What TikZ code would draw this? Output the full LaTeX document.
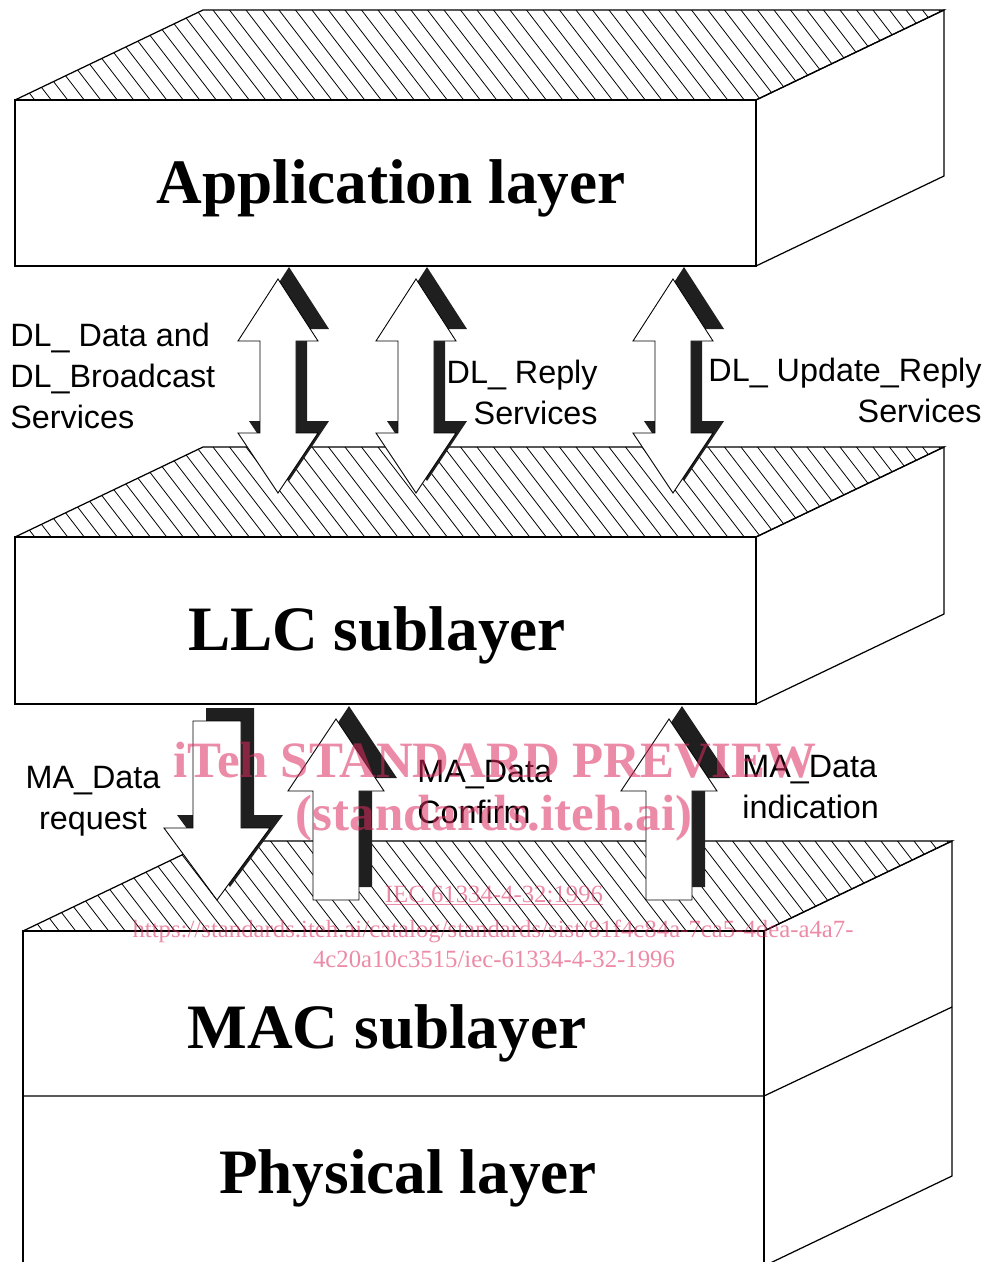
\documentclass[tikz,border=0pt]{standalone}
\usepackage{fontspec}
\setmainfont{Liberation Serif}
\setsansfont{Liberation Sans}
\definecolor{wmpink}{RGB}{220,44,95}
\begin{document}
\begin{tikzpicture}
[x=0.02cm,y=-0.02cm,%
  blockline/.style={line width=0.7pt},%
  hatchline/.style={line width=0.45pt},%
  arrowbody/.style={fill=white,draw,line width=0.5pt},%
  arrowshade/.style={fill=black!88},%
  layername/.style={font=\fontsize{36}{40}\selectfont\bfseries,inner sep=0pt,anchor=base},%
  servicename/.style={font=\sffamily\fontsize{18.4}{23.4}\selectfont,inner sep=0pt},%
  watermark/.style={text=wmpink,opacity=0.55,inner sep=0pt,anchor=base},%
  scale=1]
\useasboundingbox (0,0) rectangle (989,1262);
%% layer blocks
\foreach \bx/\by/\bh in {15/100/166, 15/537/167, 23/931/335} {
  \begin{scope}
    \clip (\bx,\by) -- ++(188,-90) -- ++(741,0) -- ++(-188,90) -- cycle;
    \foreach \k in {-6,...,58}
      \draw[hatchline] (\bx+\k*16.5,\by-90) -- ++(100,130);
  \end{scope}
  \draw[blockline] (\bx,\by) -- ++(188,-90) -- ++(741,0) -- ++(-188,90);
  \draw[blockline] (\bx,\by) rectangle ++(741,\bh);
  \draw[blockline] (\bx+741,\by) -- ++(188,-90) -- ++(0,\bh) -- ++(-188,90);
}
\draw[blockline] (23,1096) -- (764,1096) -- (952,1007);
%% layer names
\node[layername] (app) at (391,203) {Application layer};
\node[layername] (llc) at (377,650) {LLC sublayer};
\node[layername] (mac) at (387,1048) {MAC sublayer};
\node[layername] (phy) at (408,1193) {Physical layer};
%% service arrows between application layer and LLC
\foreach \cx in {278,416,673} {
  \foreach \dx/\dy/\sty in {11/-12/arrowshade, 0/0/arrowbody}
    \path[\sty,shift={(\dx,\dy)}] (\cx,279) -- (\cx+40,341) -- (\cx+18,341)
      -- (\cx+18,433) -- (\cx+40,433) -- (\cx,493) -- (\cx-40,433)
      -- (\cx-18,433) -- (\cx-18,341) -- (\cx-40,341) -- cycle;
}
%% service arrows between LLC and MAC
\foreach \dx/\dy/\sty in {13/-13/arrowshade, 0/0/arrowbody} {
  \path[\sty,shift={(\dx,\dy)}] (193,721) -- (241,721) -- (241,828)
    -- (270,828) -- (217,900) -- (164,828) -- (193,828) -- cycle;
  \foreach \cx in {336,669}
    \path[\sty,shift={(\dx,\dy)}] (\cx,719) -- (\cx+48,791) -- (\cx+23,791)
      -- (\cx+23,900) -- (\cx-23,900) -- (\cx-23,791) -- (\cx-48,791) -- cycle;
}
%% service labels
\node[servicename,anchor=west,align=left] (dldata) at (10,376) {DL\_ Data and\\DL\_Broadcast\\Services};
\node[servicename,anchor=east,align=right] (dlreply) at (598,392) {DL\_ Reply\\Services};
\node[servicename,anchor=east,align=right] (dlupdate) at (982,390) {DL\_ Update\_Reply\\Services};
\node[servicename,align=center] (mareq) at (93,801) {MA\_Data\\request};
\node[servicename,anchor=west,align=left] (macon) at (417,792) {MA\_Data\\Confirm};
\node[servicename,anchor=west,align=left] (maind) at (742,787) {MA\_Data\\indication};
%% watermark
\node[watermark,font=\fontsize{29}{32}\selectfont\bfseries] (wmtitle) at (495,777) {iTeh STANDARD PREVIEW};
\node[watermark,font=\fontsize{29}{32}\selectfont\bfseries] (wmsite) at (494,830) {(standards.iteh.ai)};
\node[watermark,font=\fontsize{14.1}{16}\selectfont] (wmcode) at (494,902) {\underline{IEC 61334-4-32:1996}};
\node[watermark,font=\fontsize{14.1}{16}\selectfont] (wmurl) at (493,937) {https://standards.iteh.ai/catalog/standards/sist/81f4c84a-7ca5-4dea-a4a7-};
\node[watermark,font=\fontsize{14.1}{16}\selectfont] (wmdoc) at (494,967) {4c20a10c3515/iec-61334-4-32-1996};
\end{tikzpicture}
\end{document}
